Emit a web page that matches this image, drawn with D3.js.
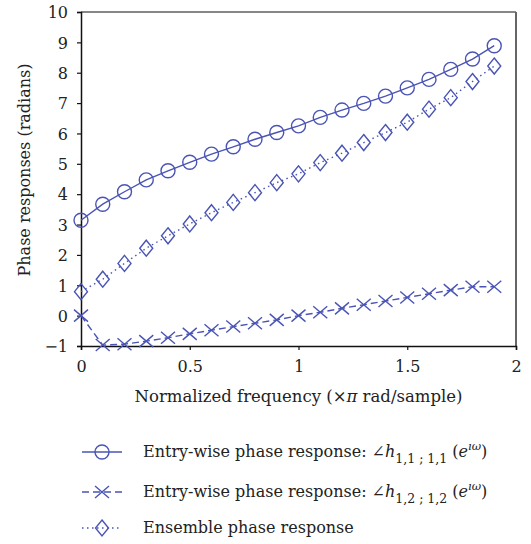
<!DOCTYPE html>
<html>
<head>
<meta charset="utf-8">
<script src="https://cdn.jsdelivr.net/npm/d3@7"></script>
<style>
  body { margin: 0; background: #fff; }
  svg { display: block; }
  text { font-family: "DejaVu Serif", "Liberation Serif", serif; fill: #222; }
</style>
</head>
<body>
<div id="chart"></div>
<script>
// normalized frequency (x pi rad/sample)
const freqs = [0, 0.1, 0.2, 0.3, 0.4, 0.5, 0.6, 0.7, 0.8, 0.9,
               1.0, 1.1, 1.2, 1.3, 1.4, 1.5, 1.6, 1.7, 1.8, 1.9];

// phase responses (radians)
const phase11 = [3.14, 3.67, 4.08, 4.47, 4.77, 5.05, 5.32, 5.56, 5.81, 6.03,
                 6.25, 6.53, 6.77, 6.99, 7.23, 7.50, 7.78, 8.11, 8.45, 8.89];
const phase12 = [0.0, -0.97, -0.94, -0.84, -0.73, -0.60, -0.48, -0.36, -0.25, -0.14,
                 0.0, 0.11, 0.24, 0.36, 0.48, 0.60, 0.72, 0.84, 0.95, 0.95];
const ensemble = [0.79, 1.20, 1.72, 2.22, 2.63, 3.02, 3.39, 3.73, 4.05, 4.38,
                  4.67, 5.04, 5.35, 5.70, 6.03, 6.37, 6.80, 7.18, 7.71, 8.22];

const xTicks = [0, 0.5, 1, 1.5, 2];
const yTicks = [-1, 0, 1, 2, 3, 4, 5, 6, 7, 8, 9, 10];

const blue = "#4a54b5";
const W = 531, H = 544;
const FONT = '"DejaVu Serif", "Liberation Serif", serif';

const svg = d3.select("#chart").append("svg")
    .attr("width", W)
    .attr("height", H);

const x = d3.scaleLinear().domain([0, 2]).range([81, 516]);
const y = d3.scaleLinear().domain([-1, 10]).range([346, 12]);

// frame: top black, right grey
svg.append("line")
    .attr("x1", x(0)).attr("x2", x(2))
    .attr("y1", y(10)).attr("y2", y(10))
    .attr("stroke", "#111").attr("stroke-width", 1.2);
svg.append("line")
    .attr("x1", x(2)).attr("x2", x(2))
    .attr("y1", y(10)).attr("y2", y(-1))
    .attr("stroke", "#666").attr("stroke-width", 2);

// axes
const yAxis = svg.append("g")
    .attr("transform", `translate(${x(0)},0)`)
    .call(d3.axisLeft(y).tickValues(yTicks).tickSize(4).tickPadding(9).tickFormat(d3.format("")));
const xAxis = svg.append("g")
    .attr("transform", `translate(0,${y(-1)})`)
    .call(d3.axisBottom(x).tickValues(xTicks).tickSize(4).tickPadding(11).tickFormat(d3.format("")));

[yAxis, xAxis].forEach(g => {
    g.attr("font-family", FONT);
    g.select(".domain").attr("stroke", "#111").attr("stroke-width", 1.5);
    g.selectAll(".tick line").attr("stroke", "#111").attr("stroke-width", 1.2);
    g.selectAll(".tick text")
        .style("font-size", "16px")
        .attr("fill", "#222");
});
yAxis.selectAll(".tick text").attr("dy", "0.36em");

// axis titles
svg.append("text")
    .attr("x", x(1))
    .attr("y", 402)
    .attr("text-anchor", "middle")
    .style("font-size", "16.5px")
    .html('Normalized frequency (×<tspan font-style="italic">π</tspan> rad/sample)');

svg.append("text")
    .attr("transform", `translate(30,170) rotate(-90)`)
    .attr("text-anchor", "middle")
    .style("font-size", "16px")
    .text("Phase responses (radians)");

// series
const line = d3.line().x(d => x(d[0])).y(d => y(d[1]));
const zip = vals => freqs.map((f, i) => [f, vals[i]]);

const series = [
    { name: "h11", vals: phase11, dash: null, marker: "circle" },
    { name: "h12", vals: phase12, dash: "7,4", marker: "cross" },
    { name: "ens", vals: ensemble, dash: "1.5,3.5", marker: "diamond" }
];

function drawMarker(g, type, cx, cy) {
    if (type === "circle") {
        g.append("circle").attr("cx", cx).attr("cy", cy).attr("r", 7)
            .attr("fill", "none").attr("stroke", blue).attr("stroke-width", 1.4);
    } else if (type === "cross") {
        g.append("path")
            .attr("d", `M${cx - 7},${cy - 6}L${cx + 7},${cy + 6}M${cx - 7},${cy + 6}L${cx + 7},${cy - 6}`)
            .attr("fill", "none").attr("stroke", blue).attr("stroke-width", 1.4);
    } else {
        g.append("path")
            .attr("d", `M${cx},${cy - 8}L${cx + 6.5},${cy}L${cx},${cy + 8}L${cx - 6.5},${cy}Z`)
            .attr("fill", "none").attr("stroke", blue).attr("stroke-width", 1.4);
    }
}

series.forEach(s => {
    const g = svg.append("g").attr("class", "series-" + s.name);
    g.append("path")
        .datum(zip(s.vals))
        .attr("d", line)
        .attr("fill", "none")
        .attr("stroke", blue)
        .attr("stroke-width", 1.4)
        .attr("stroke-dasharray", s.dash);
    zip(s.vals).forEach(d => drawMarker(g, s.marker, x(d[0]), y(d[1])));
});

// legend
const sub = (s) => '<tspan font-style="italic">∠h</tspan><tspan font-size="12.5" dy="6">' + s +
    '</tspan><tspan dy="-6"> (</tspan><tspan font-style="italic">e</tspan>' +
    '<tspan font-style="italic" font-size="11.5" dy="-7">ıω</tspan><tspan dy="7">)</tspan>';

const legendRows = [
    { s: series[0], y: 452, html: 'Entry-wise phase response: ' + sub("1,1 ; 1,1") },
    { s: series[1], y: 492, html: 'Entry-wise phase response: ' + sub("1,2 ; 1,2") },
    { s: series[2], y: 528, html: 'Ensemble phase response' }
];

legendRows.forEach(r => {
    const g = svg.append("g");
    g.append("line")
        .attr("x1", 82).attr("x2", 122)
        .attr("y1", r.y).attr("y2", r.y)
        .attr("stroke", blue).attr("stroke-width", 1.4)
        .attr("stroke-dasharray", r.s.dash);
    drawMarker(g, r.s.marker, 102, r.y);
    g.append("text")
        .attr("x", 143)
        .attr("y", r.y + 5)
        .style("font-size", "16px")
        .html(r.html);
});
</script>
</body>
</html>
